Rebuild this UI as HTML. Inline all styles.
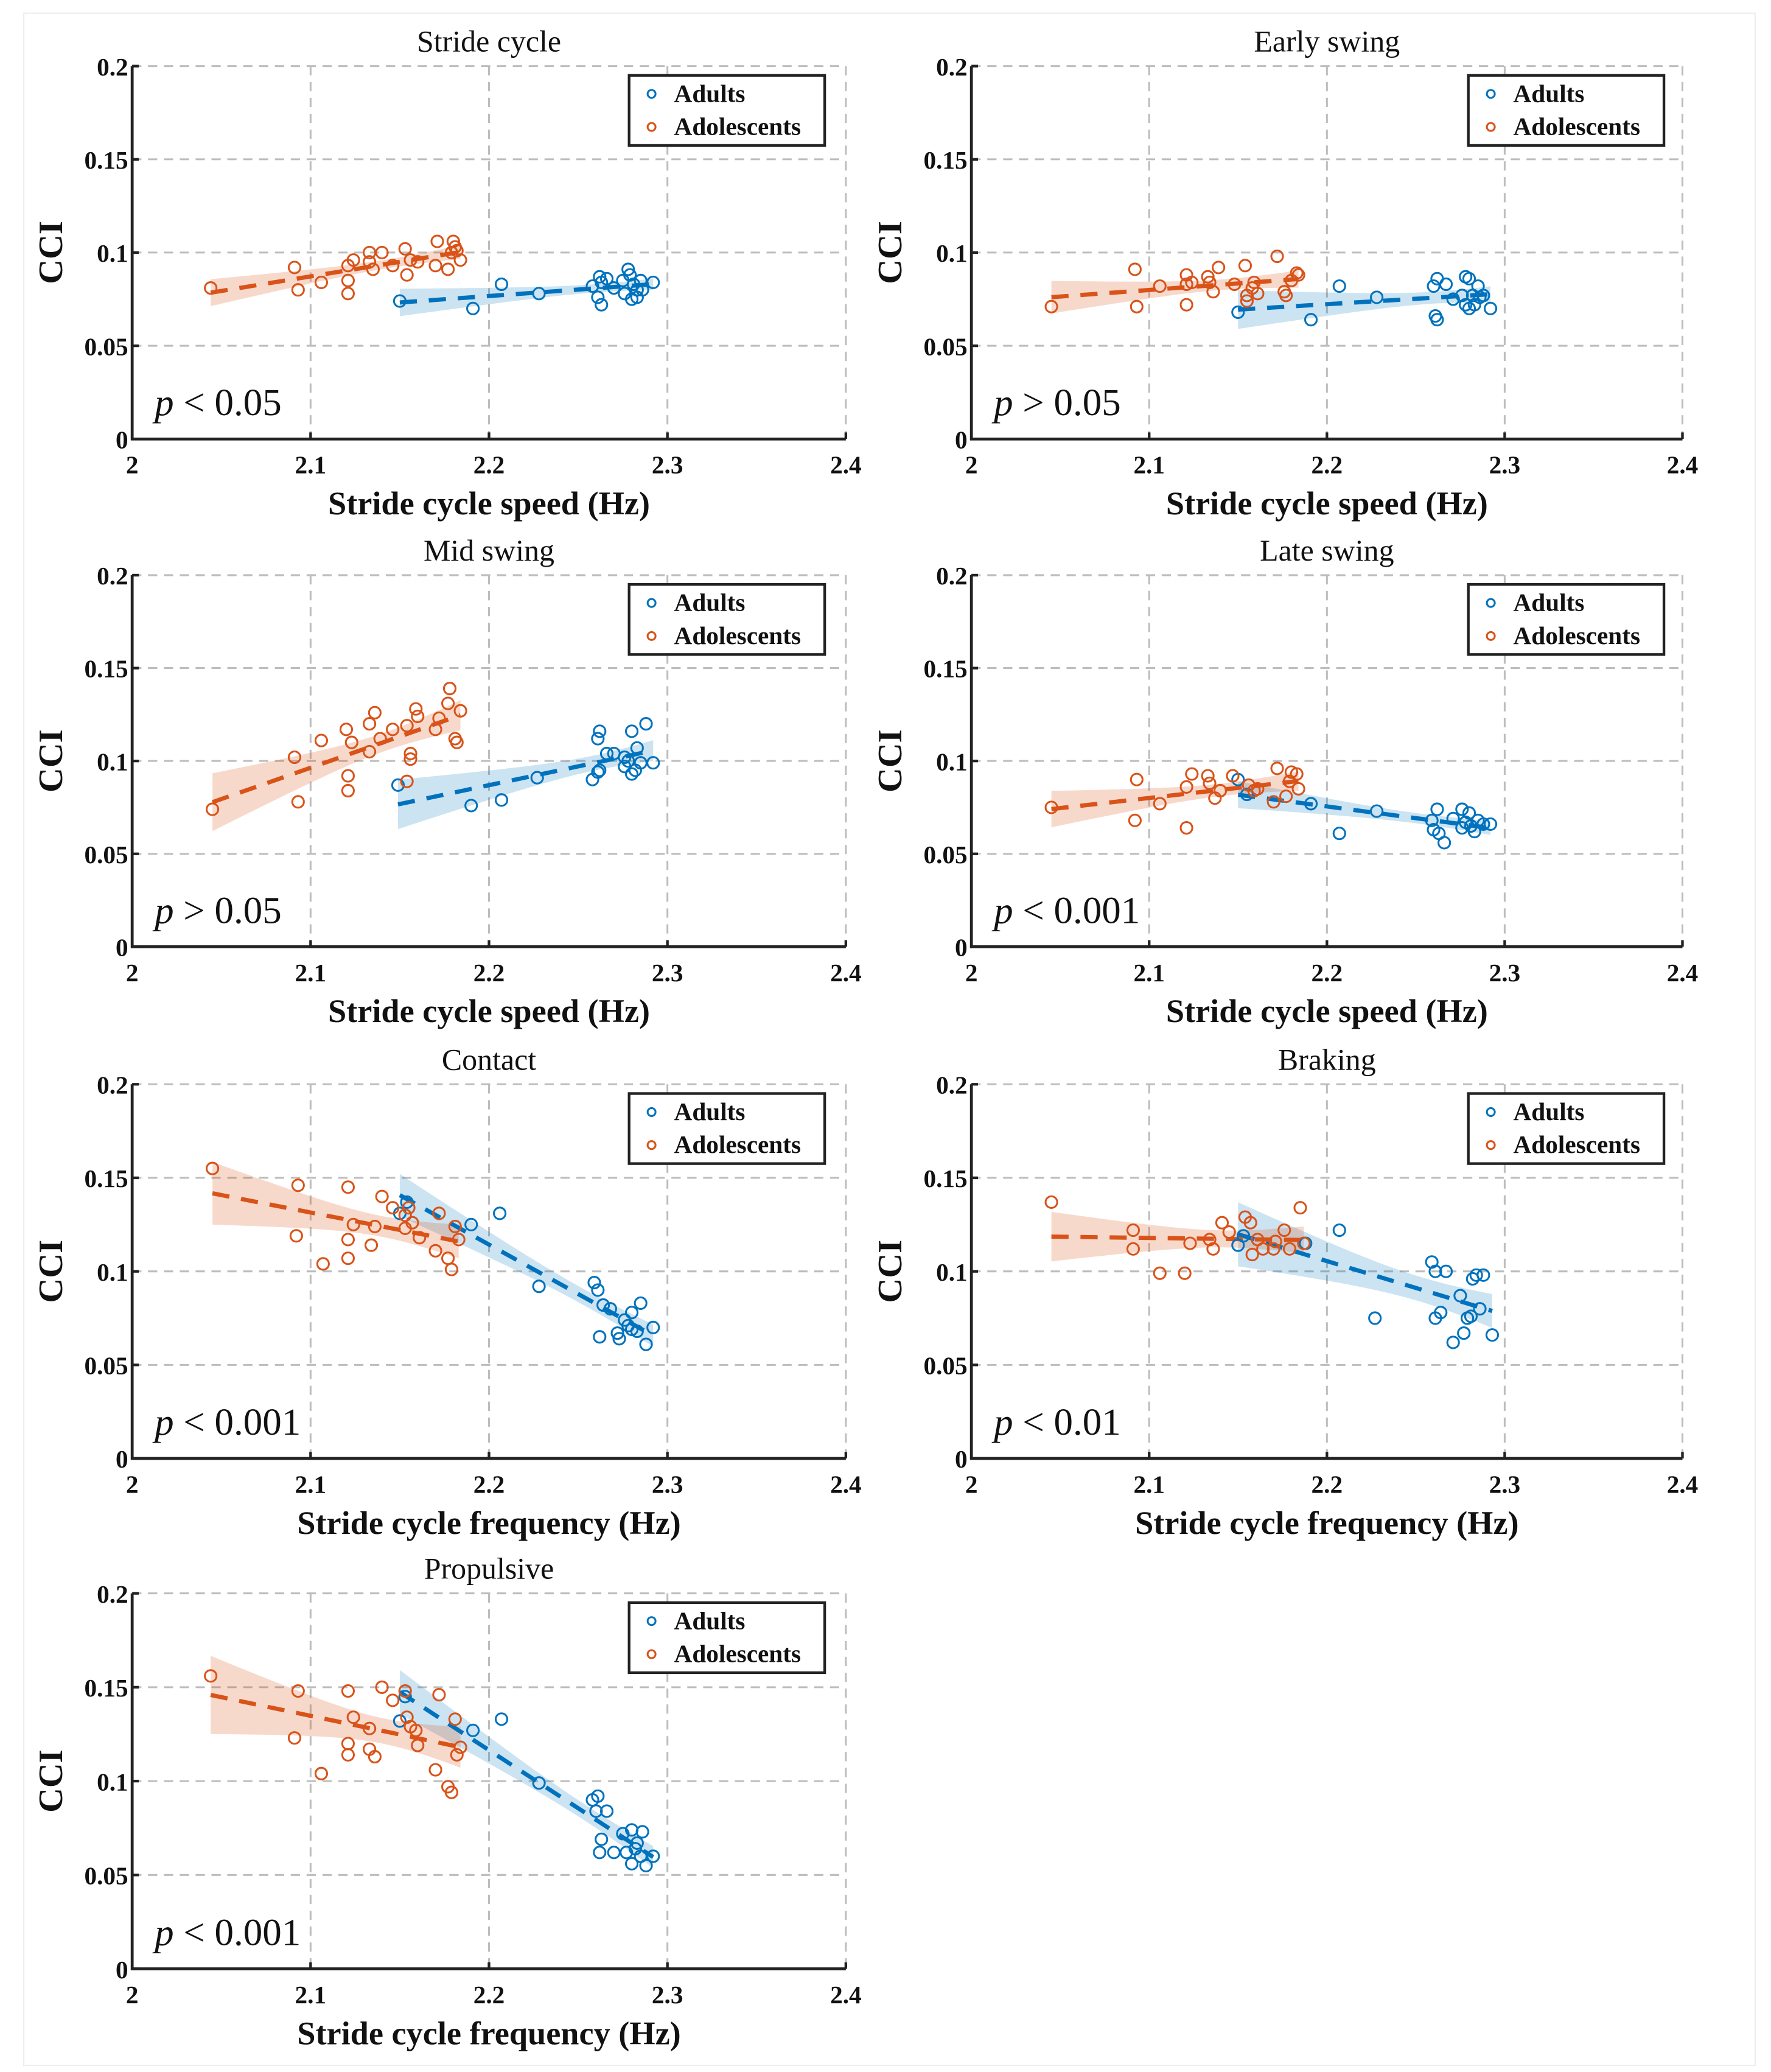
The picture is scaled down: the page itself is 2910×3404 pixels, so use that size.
<!DOCTYPE html>
<html><head><meta charset="utf-8">
<style>
html,body{margin:0;padding:0;background:#fff;}
svg{display:block;}
text{font-family:"Liberation Serif",serif;fill:#111;}
</style></head>
<body>
<svg id="fig" xmlns="http://www.w3.org/2000/svg" width="2910" height="3404" viewBox="0 0 1340 1567" preserveAspectRatio="none">
<rect x="18" y="10" width="1310" height="1552" fill="#fff" stroke="#eee" stroke-width="1"/>
</svg>
<script>
// ---- data ----
const panelTitles = ["Stride cycle","Early swing","Mid swing","Late swing","Contact","Braking","Propulsive"];
const xAxisLabels = ["Stride cycle speed (Hz)","Stride cycle speed (Hz)","Stride cycle speed (Hz)","Stride cycle speed (Hz)","Stride cycle frequency (Hz)","Stride cycle frequency (Hz)","Stride cycle frequency (Hz)"];
const pValues = ["< 0.05","> 0.05","> 0.05","< 0.001","< 0.001","< 0.01","< 0.001"];
const xTicks = [2,2.1,2.2,2.3,2.4];
const xTickLabels = ["2","2.1","2.2","2.3","2.4"];
const yTicks = [0,0.05,0.1,0.15,0.2];
const yTickLabels = ["0","0.05","0.1","0.15","0.2"];
const seriesNames = ["Adults","Adolescents"];

const adolX = [
 [2.044,2.091,2.093,2.106,2.121,2.121,2.121,2.124,2.133,2.140,2.135,2.133,2.146,2.153,2.154,2.156,2.160,2.171,2.170,2.177,2.180,2.181,2.182,2.184,2.179],
 [2.045,2.092,2.093,2.106,2.121,2.121,2.121,2.124,2.133,2.139,2.136,2.134,2.148,2.154,2.155,2.159,2.158,2.161,2.155,2.176,2.172,2.177,2.180,2.183,2.184],
 [2.045,2.091,2.093,2.106,2.120,2.121,2.121,2.123,2.133,2.136,2.133,2.139,2.146,2.154,2.159,2.160,2.156,2.156,2.154,2.172,2.170,2.177,2.178,2.184,2.181,2.182],
 [2.045,2.092,2.093,2.106,2.121,2.121,2.124,2.133,2.134,2.137,2.140,2.147,2.156,2.159,2.161,2.170,2.172,2.177,2.180,2.183,2.184,2.179],
 [2.045,2.093,2.092,2.107,2.121,2.121,2.124,2.121,2.134,2.136,2.140,2.146,2.153,2.155,2.157,2.161,2.170,2.172,2.177,2.179,2.181,2.183,2.153],
 [2.045,2.091,2.091,2.106,2.120,2.123,2.134,2.136,2.141,2.145,2.154,2.157,2.161,2.164,2.171,2.176,2.179,2.185,2.187,2.170,2.158],
 [2.044,2.093,2.091,2.106,2.121,2.121,2.121,2.124,2.133,2.136,2.133,2.140,2.146,2.153,2.154,2.156,2.160,2.159,2.170,2.172,2.177,2.179,2.181,2.182,2.184]
];
const adolY = [
 [0.081,0.092,0.080,0.084,0.085,0.078,0.093,0.096,0.100,0.100,0.091,0.095,0.093,0.102,0.088,0.096,0.095,0.106,0.093,0.091,0.106,0.103,0.101,0.096,0.100],
 [0.071,0.091,0.071,0.082,0.088,0.072,0.083,0.084,0.087,0.092,0.079,0.084,0.083,0.093,0.077,0.084,0.081,0.078,0.074,0.079,0.098,0.077,0.085,0.089,0.088],
 [0.074,0.102,0.078,0.111,0.117,0.092,0.084,0.110,0.120,0.126,0.105,0.112,0.117,0.119,0.128,0.124,0.104,0.101,0.089,0.123,0.117,0.131,0.139,0.127,0.112,0.110],
 [0.075,0.068,0.090,0.077,0.064,0.086,0.093,0.092,0.088,0.080,0.084,0.092,0.087,0.084,0.085,0.078,0.096,0.081,0.094,0.093,0.085,0.089],
 [0.155,0.146,0.119,0.104,0.145,0.117,0.125,0.107,0.114,0.124,0.140,0.134,0.130,0.134,0.126,0.118,0.111,0.131,0.107,0.101,0.124,0.117,0.123],
 [0.137,0.122,0.112,0.099,0.099,0.115,0.117,0.112,0.126,0.121,0.129,0.126,0.117,0.112,0.116,0.122,0.112,0.134,0.115,0.112,0.109],
 [0.156,0.148,0.123,0.104,0.148,0.120,0.114,0.134,0.117,0.113,0.128,0.150,0.143,0.148,0.134,0.129,0.119,0.127,0.106,0.146,0.097,0.094,0.133,0.114,0.118]
];
const adultX = [
 [2.150,2.191,2.207,2.228,2.258,2.262,2.261,2.263,2.263,2.266,2.270,2.275,2.278,2.276,2.280,2.281,2.283,2.285,2.286,2.292,2.279,2.283],
 [2.150,2.191,2.207,2.228,2.260,2.262,2.261,2.262,2.267,2.271,2.278,2.280,2.276,2.278,2.280,2.285,2.286,2.288,2.292,2.282,2.283],
 [2.149,2.190,2.207,2.227,2.258,2.261,2.262,2.261,2.262,2.266,2.270,2.276,2.280,2.288,2.283,2.276,2.280,2.282,2.285,2.292,2.278],
 [2.150,2.155,2.191,2.207,2.228,2.262,2.260,2.263,2.266,2.259,2.271,2.276,2.280,2.276,2.281,2.283,2.285,2.288,2.292,2.278],
 [2.150,2.154,2.190,2.206,2.228,2.259,2.261,2.262,2.264,2.268,2.272,2.276,2.278,2.280,2.283,2.285,2.288,2.292,2.280,2.273],
 [2.150,2.153,2.188,2.207,2.227,2.259,2.261,2.261,2.264,2.267,2.271,2.275,2.277,2.279,2.282,2.284,2.286,2.288,2.293,2.281],
 [2.150,2.153,2.191,2.207,2.228,2.258,2.261,2.260,2.266,2.263,2.262,2.270,2.275,2.277,2.280,2.280,2.283,2.285,2.286,2.288,2.292,2.282]
];
const adultY = [
 [0.074,0.070,0.083,0.078,0.082,0.087,0.076,0.072,0.084,0.086,0.081,0.085,0.091,0.078,0.075,0.083,0.076,0.085,0.080,0.084,0.088,0.080],
 [0.068,0.064,0.082,0.076,0.082,0.086,0.066,0.064,0.083,0.075,0.087,0.086,0.077,0.072,0.070,0.082,0.076,0.077,0.070,0.077,0.072],
 [0.087,0.076,0.079,0.091,0.090,0.094,0.095,0.112,0.116,0.104,0.104,0.102,0.116,0.120,0.107,0.097,0.093,0.095,0.099,0.099,0.100],
 [0.090,0.082,0.077,0.061,0.073,0.074,0.063,0.061,0.056,0.068,0.069,0.074,0.072,0.064,0.065,0.062,0.068,0.066,0.066,0.067],
 [0.131,0.137,0.125,0.131,0.092,0.094,0.090,0.065,0.082,0.080,0.067,0.074,0.071,0.078,0.068,0.083,0.061,0.070,0.069,0.064],
 [0.114,0.119,0.115,0.122,0.075,0.105,0.100,0.075,0.078,0.100,0.062,0.087,0.067,0.075,0.096,0.098,0.080,0.098,0.066,0.076],
 [0.132,0.145,0.127,0.133,0.099,0.090,0.092,0.084,0.084,0.069,0.062,0.062,0.072,0.062,0.074,0.056,0.067,0.060,0.073,0.055,0.060,0.064]
];

// ---- layout ----
const NS = "http://www.w3.org/2000/svg";
const svg = document.getElementById('fig');
const colX = [[100,640],[735,1273]];
const rowY = [[50,332],[435,716],[820,1103],[1205,1489]];
const COLORS = ["#0072BD","#D95319"];
const FILLS = ["rgba(0,114,189,0.2)","rgba(217,83,25,0.22)"];

function mk(tag, attrs, parent){
  const e = document.createElementNS(NS, tag);
  for (const k in attrs) e.setAttribute(k, attrs[k]);
  (parent||svg).appendChild(e);
  return e;
}

function regress(xs, ys){
  const n = xs.length;
  const mx = xs.reduce((a,b)=>a+b,0)/n, my = ys.reduce((a,b)=>a+b,0)/n;
  let sxx=0, sxy=0;
  for (let i=0;i<n;i++){ sxx+=(xs[i]-mx)**2; sxy+=(xs[i]-mx)*(ys[i]-my); }
  const b = sxy/sxx, a = my - b*mx;
  let sse=0; for (let i=0;i<n;i++) sse += (ys[i]-a-b*xs[i])**2;
  const s = Math.sqrt(sse/(n-2));
  return {a,b,s,n,mx,sxx};
}

function drawPanel(idx){
  const col = idx%2, row = Math.floor(idx/2);
  const [x0,x1] = colX[col], [yT,yB] = rowY[row];
  const sx = v => x0 + (v-2)/0.4*(x1-x0);
  const sy = v => yB - v/0.2*(yB-yT);
  const g = mk('g', {});
  
  

  // grid
  xTicks.forEach((t,i)=>{
    if (i===0) return;
    const l = mk('line',{x1:sx(t),x2:sx(t),y1:yT,y2:yB,stroke:'#bdbdbd','stroke-width':1.4,'stroke-dasharray':'7,5'},g);
    
    
  });
  yTicks.forEach((t,i)=>{
    if (i===0) return;
    const l = mk('line',{x1:x0,x2:x1,y1:sy(t),y2:sy(t),stroke:'#bdbdbd','stroke-width':1.4,'stroke-dasharray':'7,5'},g);
    
    
  });

  // bands, lines, points
  const groups = [[adultX[idx],adultY[idx]],[adolX[idx],adolY[idx]]];
  groups.forEach(([xs,ys],gi)=>{
    const r = regress(xs,ys);
    const xmin = Math.min(...xs), xmax = Math.max(...xs);
    const N = 30, up=[], lo=[];
    for (let k=0;k<=N;k++){
      const x = xmin + (xmax-xmin)*k/N;
      const yh = r.a + r.b*x;
      const h = 2.07*r.s*Math.sqrt(1/r.n + (x-r.mx)**2/r.sxx);
      up.push(sx(x).toFixed(2)+','+sy(yh+h).toFixed(2));
      lo.unshift(sx(x).toFixed(2)+','+sy(yh-h).toFixed(2));
    }
    const band = mk('polygon',{points:up.concat(lo).join(' '),fill:FILLS[gi],stroke:'none'},g);
    
    
  });
  groups.forEach(([xs,ys],gi)=>{
    const r = regress(xs,ys);
    const xmin = Math.min(...xs), xmax = Math.max(...xs);
    const ln = mk('line',{x1:sx(xmin),y1:sy(r.a+r.b*xmin),x2:sx(xmax),y2:sy(r.a+r.b*xmax),stroke:COLORS[gi],'stroke-width':3.2,'stroke-dasharray':'13,9'},g);
    
    
  });
  groups.forEach(([xs,ys],gi)=>{
    xs.forEach((x,i)=>{
      const c = mk('circle',{cx:sx(x),cy:sy(ys[i]),r:4.4,fill:'none',stroke:COLORS[gi],'stroke-width':1.4},g);
      
      
    });
  });

  // axes
  const ya = mk('line',{x1:x0,x2:x0,y1:yT,y2:yB+1,stroke:'#222','stroke-width':2.2},g);
  
  
  const xa = mk('line',{x1:x0-1,x2:x1,y1:yB,y2:yB,stroke:'#222','stroke-width':2.2},g);
  
  
  xTicks.forEach((t,i)=>{
    mk('line',{x1:sx(t),x2:sx(t),y1:yB,y2:yB-5,stroke:'#222','stroke-width':2},g);
    const tx = mk('text',{x:sx(t),y:yB+26,'text-anchor':'middle','font-size':19,'font-weight':'bold'},g);
    tx.textContent = xTickLabels[i];
    
    
  });
  yTicks.forEach((t,i)=>{
    mk('line',{x1:x0,x2:x0+5,y1:sy(t),y2:sy(t),stroke:'#222','stroke-width':2},g);
    const tx = mk('text',{x:x0-3,y:sy(t)+7,'text-anchor':'end','font-size':19,'font-weight':'bold'},g);
    tx.textContent = yTickLabels[i];
    
    
  });

  // titles
  const tt = mk('text',{x:(x0+x1)/2,y:yT-11,'text-anchor':'middle','font-size':23},g);
  tt.textContent = panelTitles[idx];
  
  
  const xl = mk('text',{x:(x0+x1)/2,y:yB+57,'text-anchor':'middle','font-size':25,'font-weight':'bold'},g);
  xl.textContent = xAxisLabels[idx];
  
  
  const cy = (yT+yB)/2;
  const yl = mk('text',{x:x0-53,y:cy,'text-anchor':'middle','font-size':26,'font-weight':'bold',transform:`rotate(-90 ${x0-53} ${cy})`},g);
  yl.textContent = 'CCI';
  
  

  // p value
  const pt = mk('text',{x:x0+17,y:yB-18,'font-size':29},g);
  
  
  const pi = mk('tspan',{'font-style':'italic'},pt); pi.textContent='p';
  const pr = mk('tspan',{},pt); pr.textContent=' '+pValues[idx];

  // legend
  const lg = mk('g',{},g);
  
  
  mk('rect',{x:x0+376,y:yT+7,width:148,height:53,fill:'#fff',stroke:'#222','stroke-width':2},lg);
  seriesNames.forEach((nm,gi)=>{
    const ly = yT+21+gi*25;
    const m = mk('circle',{cx:x0+393,cy:ly,r:3,fill:'none',stroke:COLORS[gi],'stroke-width':1.4},lg);
    
    
    const t = mk('text',{x:x0+410,y:ly+6,'font-size':19,'font-weight':'bold'},lg);
    t.textContent = nm;
    
    
  });
}
for (let i=0;i<panelTitles.length;i++) drawPanel(i);
</script>
</body></html>
